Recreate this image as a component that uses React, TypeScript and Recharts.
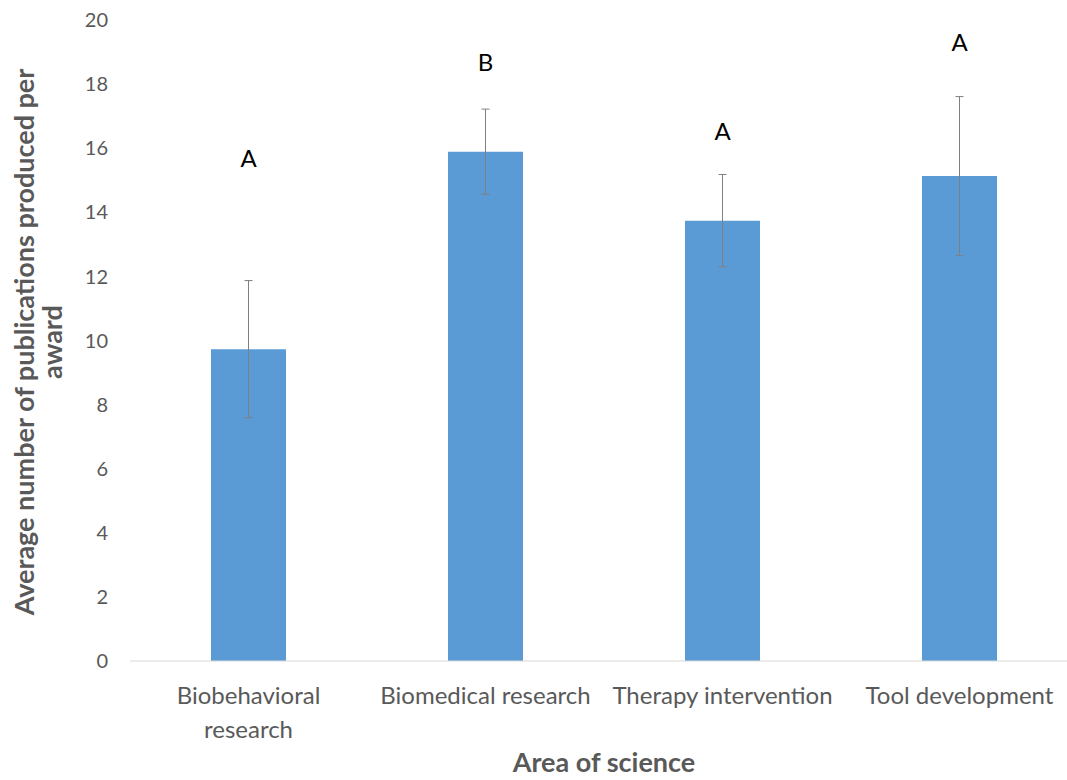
import React from "react";
import { ComposedChart, Bar, ErrorBar, Scatter, XAxis, YAxis, Label } from "recharts";

const categories = ["Biobehavioral research", "Biomedical research", "Therapy intervention", "Tool development"];
const tickLines = [["Biobehavioral", "research"], ["Biomedical research"], ["Therapy intervention"], ["Tool development"]];
const meanPubs = [9.73, 15.89, 13.74, 15.13];
const errPubs = [2.14, 1.33, 1.44, 2.48];
const groupLetters = ["A", "B", "A", "A"];
const letterY = [15.7, 18.7, 16.55, 19.3];
const yTicks = [0, 2, 4, 6, 8, 10, 12, 14, 16, 18, 20];

const FONT = "Lato, 'Open Sans', sans-serif";
const GREY = "#595959";

const data = categories.map((name, i) => ({
  name,
  mean: meanPubs[i],
  err: errPubs[i],
  letterY: letterY[i],
  letter: groupLetters[i],
}));

function CategoryTick({ x, y, payload, index }: any) {
  const lines = tickLines[index] || [payload.value];
  return (
    <text x={x} y={y} textAnchor="middle" fill={GREY} fontSize={24} fontFamily={FONT}>
      {lines.map((l: string, i: number) => (
        <tspan key={i} x={x} dy={i === 0 ? 35 : 34}>
          {l}
        </tspan>
      ))}
    </text>
  );
}

function LetterShape({ cx, cy, payload }: any) {
  return (
    <text x={cx} y={cy} dy={9} textAnchor="middle" fill="#000" fontSize={24} fontFamily={FONT}>
      {payload.letter}
    </text>
  );
}

function YTitle() {
  return (
    <text transform="translate(0,342) rotate(-90)" textAnchor="middle" fill={GREY} fontSize={27} fontWeight="bold" fontFamily={FONT}>
      <tspan x={0} y={34}>Average number of publications produced per</tspan>
      <tspan x={0} y={62}>award</tspan>
    </text>
  );
}

export default function App() {
  return (
    <div style={{ position: "absolute", left: 0, top: 0, width: 1067, height: 780, overflow: "hidden", background: "#fff" }}>
      <ComposedChart width={1080} height={780} data={data} margin={{ top: 20, right: 2, left: 0, bottom: 19 }}>
        <XAxis
          dataKey="name"
          height={100}
          axisLine={{ stroke: "#d9d9d9" }}
          tickLine={false}
          tick={<CategoryTick />}
          interval={0}
        >
          <Label
            value="Area of science"
            position="insideBottom"
            offset={-11}
            fill={GREY}
            fontSize={27}
            fontWeight="bold"
            fontFamily={FONT}
          />
        </XAxis>
        <YAxis
          width={130}
          domain={[0, 20]}
          ticks={yTicks}
          axisLine={false}
          tickLine={false}
          tickSize={0}
          tickMargin={22}
          tick={{ fill: GREY, fontSize: 20, fontFamily: FONT }}
          label={{ content: <YTitle /> }}
        />
        <Bar dataKey="mean" fill="#5B9BD5" barSize={75} isAnimationActive={false}>
          <ErrorBar dataKey="err" width={4} stroke="#7f7f7f" strokeWidth={1} isAnimationActive={false} />
        </Bar>
        <Scatter dataKey="letterY" shape={<LetterShape />} isAnimationActive={false} />
      </ComposedChart>
    </div>
  );
}
